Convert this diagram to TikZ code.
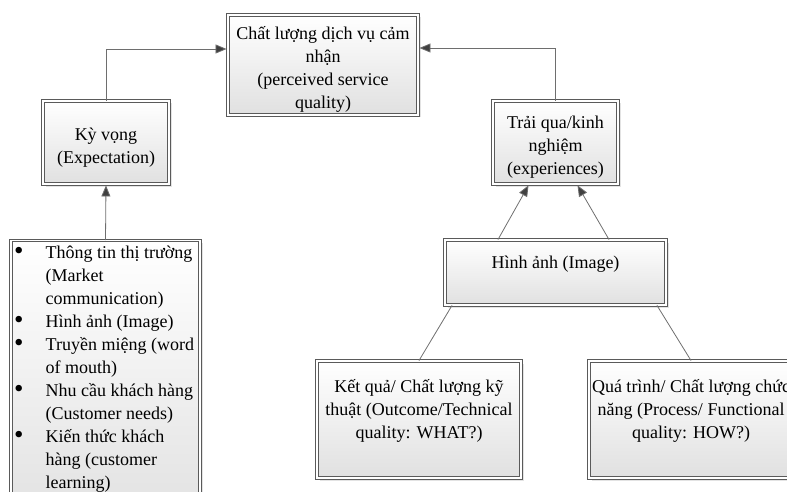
\documentclass[tikz,border=0pt]{standalone}
\usepackage{fontspec}
\setmainfont{Liberation Serif}
\usetikzlibrary{arrows.meta,shadows}
\definecolor{edgegray}{HTML}{5A5A5A}
\definecolor{linegray}{HTML}{6E6E6E}
\definecolor{tipgray}{HTML}{404040}
\newcommand\lbul{\makebox[31.5pt][l]{\raisebox{-0.6pt}{\scalebox{1.5}{\textbullet}}}}
\newcommand\lind{\hspace*{31.5pt}}
\newcommand\fl{\rule{0pt}{22pt}}
\begin{document}
\begin{tikzpicture}[x=1pt,y=-1pt,
  box/.style={draw=edgegray, line width=0.9pt, double=white, double distance=1.6pt,
    top color=white, bottom color=black!12,
    drop shadow={shadow xshift=2.5pt, shadow yshift=-2.5pt, fill=black!22},
    inner sep=0pt, align=center, font=\fontsize{18}{23}\selectfont},
  conn/.style={draw=linegray, line width=0.8pt},
  arr/.style={conn, -{Triangle[length=11pt,width=9pt,fill=tipgray]}, shorten >=1pt}
]
\useasboundingbox (0,0) rectangle (787,492);
\clip (0,0) rectangle (787,492);

\node[box, minimum width=190pt, minimum height=100pt] (top) at (323,65)
  {\fl Chất lượng dịch vụ cảm\\nhận\\(perceived service\\quality)};
\node[box, minimum width=126pt, minimum height=83pt] (kyvong) at (106,142.5)
  {\fl Kỳ vọng\\(Expectation)};
\node[box, minimum width=125pt, minimum height=83pt] (traiqua) at (555.5,142.5)
  {\fl Trải qua/kinh\\nghiệm\\(experiences)};
\node[box, minimum width=221pt, minimum height=65pt] (hinhanh) at (555.5,272.5)
  {\fl Hình ảnh (Image)\\\strut};
\node[box, minimum width=204pt, minimum height=117pt] (ketqua) at (419,419.5)
  {\fl Kết quả/ Chất lượng kỹ\\thuật (Outcome/Technical\\quality: WHAT?)\\\strut};
\node[box, minimum width=204pt, minimum height=117pt] (quatrinh) at (691,419.5)
  {\fl Quá trình/ Chất lượng chức\\năng (Process/ Functional\\quality: HOW?)\\\strut};
\node[box, minimum width=189pt, minimum height=290pt, anchor=north] (list) at (105.5,240) {};
\node[anchor=north west, inner sep=0pt, align=left, font=\fontsize{18}{23}\selectfont] (listtext) at (14,246)
  {\lbul Thông tin thị trường\\
   \lind(Market\\
   \lind communication)\\
   \lbul Hình ảnh (Image)\\
   \lbul Truyền miệng (word\\
   \lind of mouth)\\
   \lbul Nhu cầu khách hàng\\
   \lind(Customer needs)\\
   \lbul Kiến thức khách\\
   \lind hàng (customer\\
   \lind learning)};

\draw[arr] (kyvong.north) |- ([yshift=16pt]top.west);
\draw[arr] (traiqua.north) |- ([yshift=17pt]top.east);
\draw[arr] (list.north) -- (kyvong.south);
\draw[arr] ([xshift=-57.5pt]hinhanh.north) -- ([xshift=-26.5pt]traiqua.south);
\draw[arr] ([xshift=53.5pt]hinhanh.north) -- ([xshift=21.5pt]traiqua.south);
\draw[conn] ([xshift=-103.5pt]hinhanh.south) -- (ketqua.north);
\draw[conn] ([xshift=101.5pt]hinhanh.south) -- (quatrinh.north);
\end{tikzpicture}
\end{document}
